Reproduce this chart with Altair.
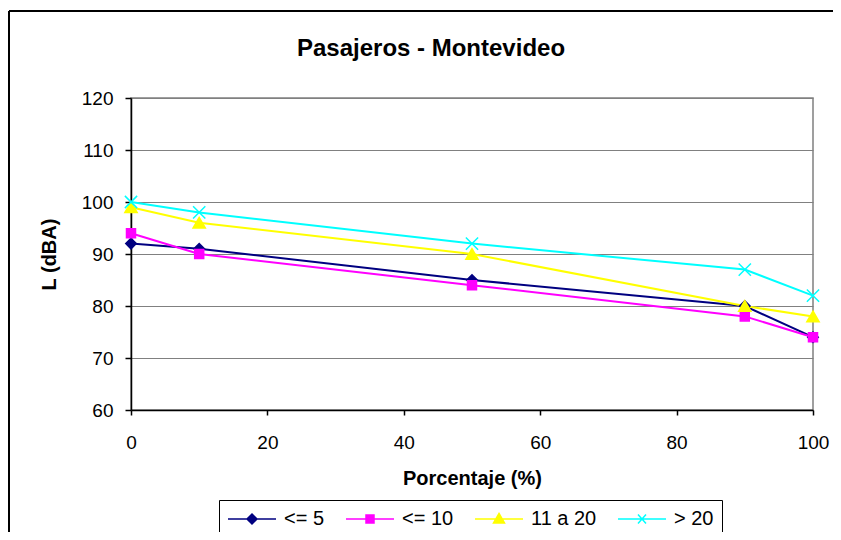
import altair as alt
import pandas as pd

# ---- data ----
porcentaje = [0, 10, 50, 90, 100]
series = ["<= 5", "<= 10", "11 a 20", "> 20"]
l_le5 = [92, 91, 85, 80, 74]
l_le10 = [94, 90, 84, 78, 74]
l_11a20 = [99, 96, 90, 80, 78]
l_gt20 = [100, 98, 92, 87, 82]
x_ticks = [0, 20, 40, 60, 80, 100]
y_ticks = [60, 70, 80, 90, 100, 110, 120]

valores = {"<= 5": l_le5, "<= 10": l_le10, "11 a 20": l_11a20, "> 20": l_gt20}
rows = []
for s in series:
    for p, v in zip(porcentaje, valores[s]):
        rows.append({"pct": p, "L": v, "serie": s})
df = pd.DataFrame(rows)

# ---- styles ----
colors = ["#000080", "#FF00FF", "#FFFF00", "#00FFFF"]
FONT = "Liberation Sans"
marker_shapes = ["diamond", "square", "triangle-up", "M-1,-1L1,1M-1,1L1,-1"]
marker_sizes = [110, 81, 150, 150]
legend_paths = [
    "M-1,0L3.8,0M1.4,-0.5L1.9,0L1.4,0.5L0.9,0Z",
    "M-1,0L3.8,0M1,-0.4L1.8,-0.4L1.8,0.4L1,0.4Z",
    "M-1,0L3.8,0M1.4,-0.55L1.95,0.4L0.85,0.4Z",
    "M-1,0L3.8,0M1,-0.45L1.8,0.45M1,0.45L1.8,-0.45",
]

x_enc = alt.X("pct:Q", scale=alt.Scale(domain=[0, 100], nice=False),
              axis=alt.Axis(values=x_ticks, title="Porcentaje (%)", grid=False,
                            tickSize=5, labelPadding=18, titlePadding=16,
                            labelFlush=False))
y_enc = alt.Y("L:Q", scale=alt.Scale(domain=[60, 120], nice=False),
              axis=alt.Axis(values=y_ticks, title="L (dBA)", grid=True,
                            gridColor="#808080", tickSize=6, labelPadding=12,
                            titlePadding=22))

base = alt.Chart(df)

line_layers = []
point_layers = []
for i, (s, c, shp, sz) in enumerate(zip(series, colors, marker_shapes, marker_sizes)):
    sub = base.transform_filter(alt.datum.serie == s)
    if i == 0:
        line_layers.append(sub.mark_line(color=c, strokeWidth=2).encode(
            x=x_enc, y=y_enc, order=alt.Order("pct:Q")))
    else:
        line_layers.append(sub.mark_line(color=c, strokeWidth=2).encode(
            x="pct:Q", y="L:Q", order=alt.Order("pct:Q")))
    point_layers.append(sub.mark_point(
        shape=shp, size=sz, filled=True, fill=c, stroke=c, strokeWidth=1.5, opacity=1
    ).encode(x="pct:Q", y="L:Q"))

leg = alt.Legend(title=None, orient="none", legendX=88, legendY=402,
                 direction="horizontal", strokeColor="black", padding=8,
                 symbolSize=400, symbolStrokeWidth=1.5, symbolOpacity=1,
                 labelOffset=35,
                 labelFont=FONT, labelFontSize=20, labelColor="black",
                 columnPadding=18)

legend_layer = base.transform_filter("false").mark_point(
    filled=True, strokeWidth=1.5, opacity=1).encode(
    x="pct:Q", y="L:Q",
    shape=alt.Shape("serie:N", scale=alt.Scale(domain=series, range=legend_paths), legend=leg),
    fill=alt.Fill("serie:N", scale=alt.Scale(domain=series, range=colors), legend=leg),
    stroke=alt.Stroke("serie:N", scale=alt.Scale(domain=series, range=colors), legend=leg),
)

frame_data = alt.Data(values=[{"k": 1}])
border_left = alt.Chart(frame_data).mark_rule(color="black", strokeWidth=2).encode(
    x=alt.value(-122), y=alt.value(-87), y2=alt.value(460))
border_top = alt.Chart(frame_data).mark_rule(color="black", strokeWidth=2).encode(
    x=alt.value(-122), x2=alt.value(720), y=alt.value(-87))

chart = alt.layer(border_left, border_top, *line_layers, *point_layers, legend_layer).properties(
    width=682, height=312,
    padding={"left": 123, "top": 90, "right": 20, "bottom": 122},
    autosize=alt.AutoSizeParams(type="none"),
    title=alt.Title("Pasajeros - Montevideo", font=FONT, fontSize=24, fontWeight="bold",
                    color="black", anchor="middle", dx=-41, offset=-51),
).configure_view(stroke="#808080", strokeWidth=1.5).configure_axis(
    labelFont=FONT, labelFontSize=19, labelColor="black",
    titleFont=FONT, titleFontSize=20, titleFontWeight="bold", titleColor="black",
    domainColor="black", domainWidth=1.5, tickColor="black", tickWidth=1.5,
    gridWidth=1.2,
)

chart.save("out.html", embed_options={"renderer": "svg", "actions": False})
